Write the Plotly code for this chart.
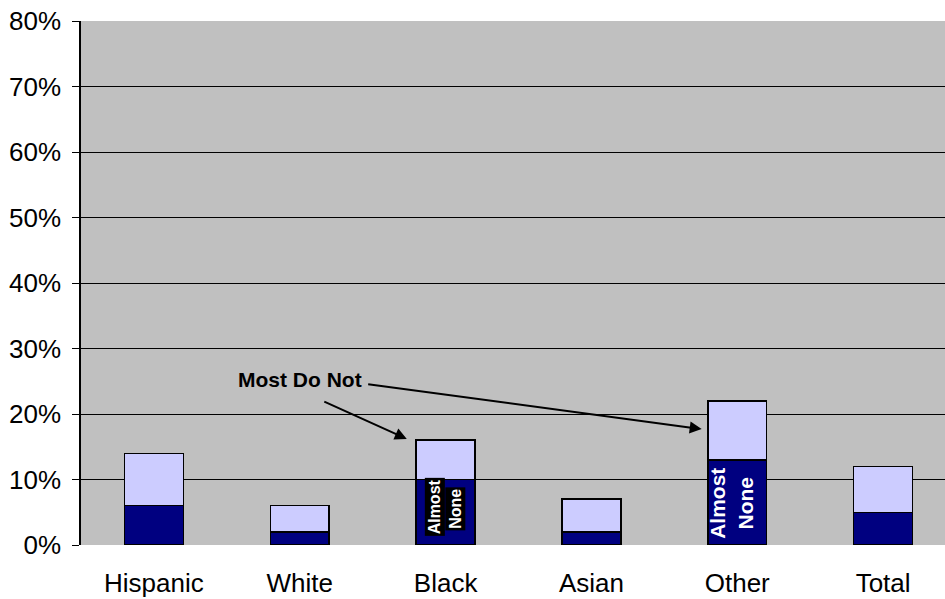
import plotly.graph_objects as go

categories = ["Hispanic", "White", "Black", "Asian", "Other", "Total"]
almost_none = [6, 2, 10, 2, 13, 5]
total = [14, 6, 16, 7, 22, 12]
rest = [t - a for t, a in zip(total, almost_none)]
y_ticks = [0, 10, 20, 30, 40, 50, 60, 70, 80]
y_tick_labels = [f"{v}%" for v in y_ticks]

fig = go.Figure()
fig.add_trace(go.Bar(x=categories, y=almost_none, marker=dict(color="#000080", line=dict(color="black", width=1.5)), showlegend=False))
fig.add_trace(go.Bar(x=categories, y=rest, marker=dict(color="#CCCCFF", line=dict(color="black", width=1.5)), showlegend=False))

fig.update_layout(
    barmode="stack",
    bargap=0.596,
    width=957, height=599,
    margin=dict(l=81, r=1, t=21, b=54, autoexpand=False),
    plot_bgcolor="#C0C0C0",
    paper_bgcolor="white",
    font=dict(family="Liberation Sans, Arial", size=26, color="black"),
    xaxis=dict(showgrid=False, showline=False, ticks="outside", ticklen=15, tickcolor="rgba(0,0,0,0)",
               tickfont=dict(size=26), range=[-0.5, 5.5], automargin=False, ticklabeloverflow="allow"),
    yaxis=dict(range=[0, 80], tickvals=y_ticks, ticktext=y_tick_labels, showgrid=True, gridcolor="black", gridwidth=1,
               showline=True, linecolor="black", linewidth=1.5, ticks="outside", ticklen=7, tickcolor="black",
               tickfont=dict(size=26), zeroline=False, automargin=False, ticklabelstandoff=6,
               ticklabeloverflow="allow"),
)

# Annotations
fig.add_annotation(x=1.734, y=16.2, xref="x", yref="y", ax=-84, ay=-38,
                   text="", showarrow=True, arrowhead=2, arrowsize=1.2, arrowwidth=2, arrowcolor="black")
fig.add_annotation(x=3.756, y=17.7, xref="x", yref="y", ax=-335, ay=-45,
                   text="", showarrow=True, arrowhead=2, arrowsize=1.2, arrowwidth=2, arrowcolor="black")
fig.add_annotation(x=1.001, y=25.2, xref="x", yref="y", text="<b>Most Do Not</b>", showarrow=False,
                   font=dict(size=21, color="black"), xanchor="center", yanchor="middle")

fig.add_annotation(x=3.958, y=6.3, xref="x", yref="y", text="<b>Almost<br>None</b>", textangle=-90, showarrow=False,
                   font=dict(size=21, color="white"))
fig.add_annotation(x=1.923, y=5.8, xref="x", yref="y", text="<b>Almost</b>", textangle=-90, showarrow=False,
                   font=dict(size=16, color="white"), bgcolor="black", borderpad=1)
fig.add_annotation(x=2.067, y=5.57, xref="x", yref="y", text="<b>None</b>", textangle=-90, showarrow=False,
                   font=dict(size=16, color="white"), bgcolor="black", borderpad=1)

fig.write_html("out.html", config={"displayModeBar": False},
               post_script="document.body.style.margin='0';document.body.style.overflow='hidden';")
